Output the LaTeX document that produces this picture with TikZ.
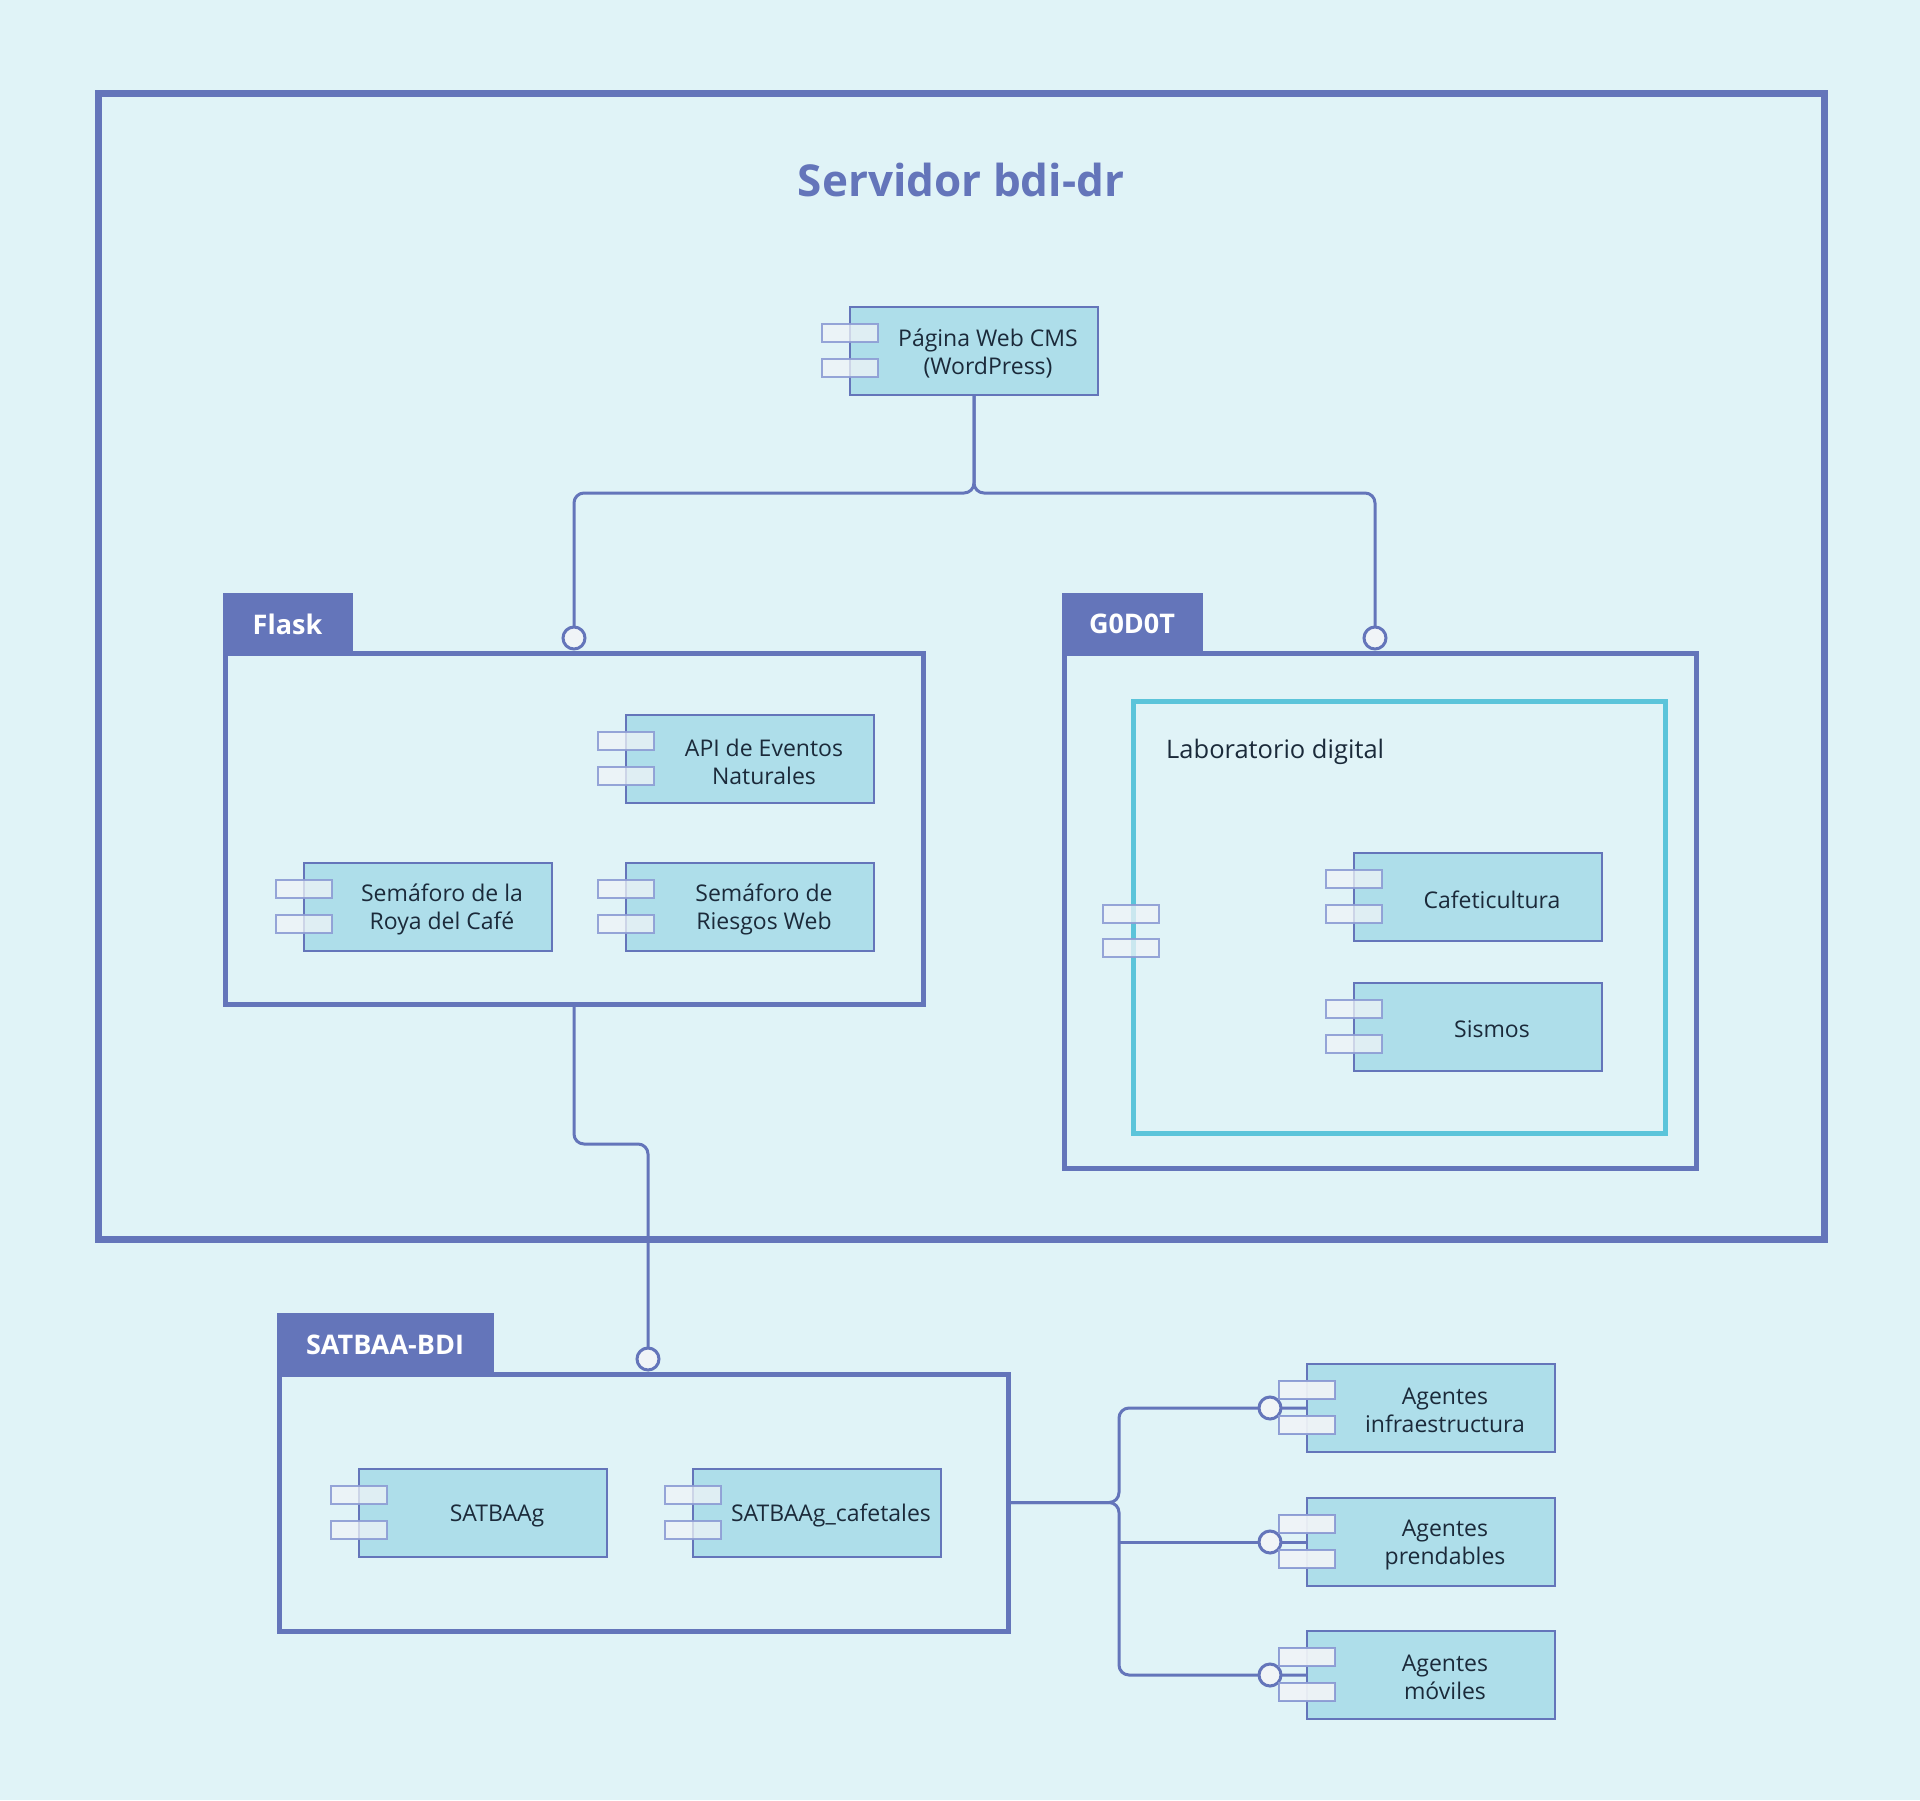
\documentclass[tikz,border=0pt]{standalone}
\usepackage{fontspec}
\setmainfont{Open Sans}
\usetikzlibrary{calc}
\definecolor{bg}{HTML}{E0F3F7}
\definecolor{frame}{HTML}{6475BA}
\definecolor{compfill}{HTML}{AEDEEA}
\definecolor{labc}{HTML}{5BC4DA}
\definecolor{txt}{HTML}{1B2A3A}
\definecolor{portfill}{HTML}{F0F4F7}
\definecolor{portline}{HTML}{8C9CD4}
\newcommand{\mycomp}[4]{%
  \node[comp] (#1) at (#2,#3) {};
  \node[port] (#1-p1) at ($(#1.north west)+(-28,17)$) {};
  \node[port] (#1-p2) at ($(#1.north west)+(-28,52)$) {};
  \node[ctext] (#1-t) at ($(#1.center)+(14,2.5)$) {#4};
}
\begin{document}
\begin{tikzpicture}[x=1pt,y=-1pt,
  comp/.style={draw=frame, fill=compfill, line width=2.5pt, minimum width=248pt, minimum height=88pt, inner sep=0, outer sep=0, anchor=north west},
  port/.style={draw=portline, fill=portfill, fill opacity=0.75, draw opacity=0.9, line width=2.5pt, minimum width=56pt, minimum height=18pt, inner sep=0, outer sep=0, anchor=north west},
  ctext/.style={text=txt, font=\fontsize{23}{28}\selectfont, align=center, inner sep=0},
  pkg/.style={draw=frame, line width=5pt, inner sep=0, outer sep=0, anchor=north west},
  tab/.style={draw=frame, fill=frame, line width=5pt, text=white, font=\fontsize{27}{32}\selectfont\bfseries, inner sep=0, outer sep=0, anchor=north west},
  lolli/.style={circle, draw=frame, fill=portfill, line width=3pt, minimum size=22pt, inner sep=0},
  conn/.style={draw=frame, line width=3pt, rounded corners=10pt},
]
\fill[bg] (0,0) rectangle (1920,1800);
\useasboundingbox (0,0) rectangle (1920,1800);

% outer server frame
\node[draw=frame, line width=7pt, minimum width=1726pt, minimum height=1146pt, inner sep=0, anchor=north west] (server) at (95,90) {};
\node[text=frame, font=\fontsize{44}{52}\selectfont\bfseries] (title) at (961,180) {Servidor bdi-dr};

% web cms
\mycomp{cms}{850}{307}{Página Web CMS\\(WordPress)}

% Flask package
\node[pkg, minimum width=698pt, minimum height=351pt] (flask) at (225,653) {};
\node[tab, minimum width=125pt, minimum height=58pt] (flasktab) at (225,595) {Flask};
\mycomp{api}{626}{715}{API de Eventos\\Naturales}
\mycomp{roya}{304}{863}{Semáforo de la\\Roya del Café}
\mycomp{riesgo}{626}{863}{Semáforo de\\Riesgos Web}

% G0D0T package
\node[pkg, minimum width=632pt, minimum height=515pt] (godot) at (1064,653) {};
\node[tab, minimum width=136pt, minimum height=58pt] (godottab) at (1064,595) {G0D0T};
\node[draw=labc, line width=4.5pt, minimum width=532pt, minimum height=432pt, inner sep=0, anchor=north west] (lab) at (1131,699) {};
\node[text=txt, font=\fontsize{25.5}{30}\selectfont, anchor=west, inner sep=0] (labtxt) at (1166,752) {Laboratorio digital};
\node[port] (lab-p1) at (1103,905) {};
\node[port] (lab-p2) at (1103,939) {};
\mycomp{cafe}{1354}{853}{Cafeticultura}
\mycomp{sismos}{1354}{983}{Sismos}

% SATBAA-BDI package
\node[pkg, minimum width=729pt, minimum height=257pt] (sat) at (279,1374) {};
\node[tab, minimum width=212pt, minimum height=59pt] (sattab) at (279,1315) {SATBAA-BDI};
\mycomp{satg}{359}{1469}{SATBAAg}
\mycomp{satc}{693}{1469}{SATBAAg\_cafetales}

% agents
\mycomp{ag1}{1307}{1364}{Agentes\\infraestructura}
\mycomp{ag2}{1307}{1498}{Agentes\\prendables}
\mycomp{ag3}{1307}{1631}{Agentes\\móviles}

% lollipop positions
\coordinate (flaskl-c) at (574,638);
\coordinate (godotl-c) at (1375,638);
\coordinate (satl-c) at (648,1359);
\coordinate (busmid) at (1119,1542);

% connectors
\draw[conn] (cms.south) -- (974,493) -- (574,493) -- (flaskl-c);
\draw[conn] (cms.south) -- (974,493) -- (1375,493) -- (godotl-c);
\draw[conn] (flask.south) -- (574,1144) -- (648,1144) -- (satl-c);
\draw[conn] (sat.east) -- (1119,1502.5) -- (1119,1408) -- (ag1.west);
\draw[conn] (sat.east) -- (1119,1502.5) -- (1119,1675) -- (ag3.west);
\draw[conn] (busmid) -- (ag2.west);

% lollipops
\node[lolli] (flaskl) at (flaskl-c) {};
\node[lolli] (godotl) at (godotl-c) {};
\node[lolli] (satl) at (satl-c) {};
\node[lolli] (ag1l) at ($(ag1.west)+(-37,0)$) {};
\node[lolli] (ag2l) at ($(ag2.west)+(-37,0)$) {};
\node[lolli] (ag3l) at ($(ag3.west)+(-37,0)$) {};
% redraw ports of agents over circles
\node[port] at ($(ag1.north west)+(-28,17)$) {};
\node[port] at ($(ag1.north west)+(-28,52)$) {};
\node[port] at ($(ag2.north west)+(-28,17)$) {};
\node[port] at ($(ag2.north west)+(-28,52)$) {};
\node[port] at ($(ag3.north west)+(-28,17)$) {};
\node[port] at ($(ag3.north west)+(-28,52)$) {};
\end{tikzpicture}
\end{document}
